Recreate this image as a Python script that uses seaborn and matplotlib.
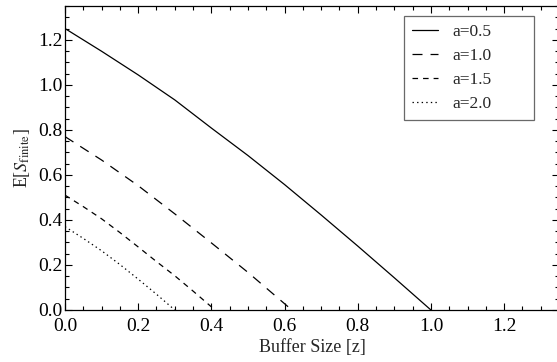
import matplotlib
matplotlib.use("Agg")
import matplotlib.pyplot as plt
from matplotlib.ticker import MultipleLocator, AutoMinorLocator, FormatStrFormatter
import pandas as pd
import seaborn as sns

# Expected finite-buffer value versus buffer size, one curve per a
z_a05 = [0.0, 0.1, 0.2, 0.3, 0.4, 0.5, 0.6, 0.7, 0.8, 0.9, 1.0]
e_a05 = [1.25, 1.149, 1.044, 0.933, 0.808, 0.686, 0.557, 0.422, 0.284, 0.143, 0.0]

z_a10 = [0.0, 0.1, 0.2, 0.3, 0.4, 0.5, 0.6, 0.62]
e_a10 = [0.77, 0.666, 0.552, 0.427, 0.298, 0.167, 0.028, 0.0]

z_a15 = [0.0, 0.05, 0.1, 0.15, 0.2, 0.25, 0.3, 0.35, 0.41]
e_a15 = [0.51, 0.459, 0.405, 0.344, 0.28, 0.215, 0.152, 0.084, 0.0]

z_a20 = [0.0, 0.05, 0.1, 0.15, 0.2, 0.25, 0.30]
e_a20 = [0.37, 0.318, 0.263, 0.202, 0.137, 0.070, 0.0]

series_labels = ["a=0.5", "a=1.0", "a=1.5", "a=2.0"]
series_z = [z_a05, z_a10, z_a15, z_a20]
series_e = [e_a05, e_a10, e_a15, e_a20]
series_ls = ["-", (0, (7.2, 5.8)), (0, (4.0, 3.6)), (0, (1.0, 2.3))]

sns.set_theme(style="ticks")
plt.rcParams["font.family"] = ["Liberation Serif", "DejaVu Serif"]
plt.rcParams["mathtext.fontset"] = "stix"
plt.rcParams["lines.scale_dashes"] = False

fig = plt.figure(figsize=(5.57, 3.62), dpi=100)
ax = fig.add_axes([65 / 557, 52 / 362, 494 / 557, 304 / 362])

for lab, zs, es, ls in zip(series_labels, series_z, series_e, series_ls):
    df = pd.DataFrame({"z": zs, "E": es})
    sns.lineplot(data=df, x="z", y="E", ax=ax, color="black", lw=0.9,
                 linestyle=ls, label=lab, sort=True, errorbar=None)

ax.set_xlim(0, 1.35)
ax.set_ylim(0, 1.35)
ax.xaxis.set_major_locator(MultipleLocator(0.2))
ax.yaxis.set_major_locator(MultipleLocator(0.2))
ax.xaxis.set_minor_locator(AutoMinorLocator(4))
ax.yaxis.set_minor_locator(AutoMinorLocator(4))
ax.xaxis.set_major_formatter(FormatStrFormatter("%.1f"))
ax.yaxis.set_major_formatter(FormatStrFormatter("%.1f"))
ax.tick_params(which="both", direction="in", top=True, right=True,
               colors="black", width=0.8)
ax.tick_params(which="major", length=5, labelsize=14)
ax.tick_params(which="minor", length=2.6)
ax.tick_params(axis="x", which="major", pad=5.5)
ax.tick_params(axis="y", which="major", pad=2)
for sp in ax.spines.values():
    sp.set_color("black")
    sp.set_linewidth(0.9)

ax.set_xlabel("Buffer Size [z]", fontsize=13, labelpad=3)
ax.set_ylabel(r"E[$S_{\mathrm{finite}}$]", fontsize=13, labelpad=4)

leg = ax.legend(loc="upper left",
                bbox_to_anchor=(339 / 494, 1 - 10 / 304, 130 / 494, 0.0),
                mode="expand", fontsize=12.5, frameon=True, fancybox=False,
                handlelength=1.5, borderpad=0.45, labelspacing=0.45,
                handletextpad=0.86, borderaxespad=0)
leg.get_frame().set_edgecolor("#444444")
leg.get_frame().set_linewidth(0.9)

fig.savefig("out.png", dpi=100)
